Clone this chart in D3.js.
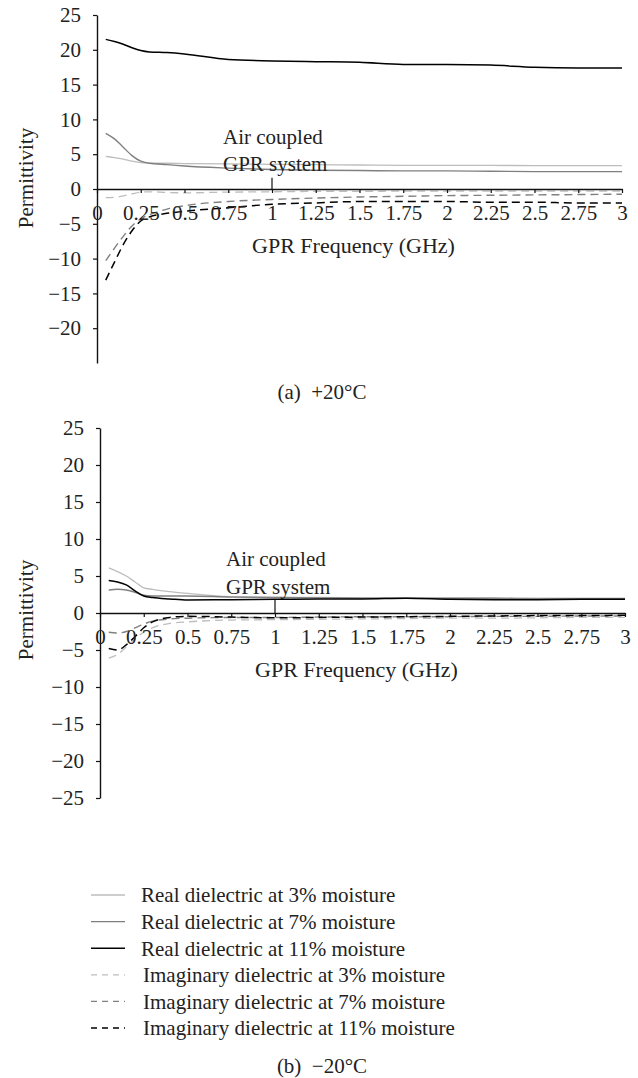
<!DOCTYPE html>
<html>
<head>
<meta charset="utf-8">
<script src="https://cdn.jsdelivr.net/npm/d3@7"></script>
<style>
  body { margin: 0; background: #fff; }
  svg text { font-family: "Liberation Serif", "Times New Roman", serif; fill: #222; }
</style>
</head>
<body>
<div id="chart"></div>
<script>
// frequency points (GHz) shared by every curve
const freq = [0.05, 0.1, 0.15, 0.2, 0.25, 0.3, 0.4, 0.5, 0.75, 1, 1.25, 1.5, 1.75, 2, 2.25, 2.5, 2.75, 3];

// panel (a) +20 C
const real3a  = [4.7, 4.5, 4.3, 4.0, 3.8, 3.7, 3.7, 3.65, 3.6, 3.55, 3.5, 3.45, 3.4, 3.4, 3.4, 3.35, 3.35, 3.35];
const real7a  = [8.0, 7.2, 6.0, 4.8, 4.0, 3.7, 3.5, 3.3, 3.0, 2.8, 2.7, 2.65, 2.6, 2.6, 2.55, 2.5, 2.5, 2.5];
const real11a = [21.5, 21.2, 20.8, 20.3, 19.9, 19.7, 19.6, 19.4, 18.6, 18.4, 18.3, 18.2, 17.9, 17.9, 17.8, 17.5, 17.4, 17.4];
const imag3a  = [-1.25, -1.2, -1.0, -0.7, -0.45, -0.4, -0.5, -0.55, -0.45, -0.4, -0.35, -0.35, -0.3, -0.3, -0.3, -0.3, -0.3, -0.3];
const imag7a  = [-10.3, -8.5, -6.8, -5.3, -4.3, -3.7, -2.9, -2.4, -1.8, -1.5, -1.3, -1.15, -1.05, -0.95, -0.9, -0.85, -0.8, -0.75];
const imag11a = [-13.1, -10.5, -8.0, -6.0, -4.6, -4.0, -3.5, -3.2, -2.7, -2.2, -2.0, -1.8, -1.8, -1.8, -1.9, -1.9, -2.0, -2.0];

// panel (b) -20 C
const real3b  = [6.1, 5.6, 5.0, 4.2, 3.4, 3.2, 2.9, 2.65, 2.2, 2.1, 2.1, 2.05, 2.0, 2.0, 2.0, 1.95, 1.95, 1.95];
const real7b  = [3.1, 3.2, 3.1, 2.8, 2.4, 2.3, 2.3, 2.3, 2.15, 2.1, 2.05, 2.0, 2.0, 2.0, 2.0, 1.95, 1.95, 1.95];
const real11b = [4.4, 4.2, 3.8, 3.0, 2.3, 2.1, 1.9, 1.75, 1.8, 1.85, 1.9, 1.9, 2.0, 1.85, 1.8, 1.8, 1.85, 1.85];
const imag3b  = [-6.1, -5.6, -4.6, -3.5, -2.6, -2.0, -1.4, -1.2, -0.95, -0.9, -0.85, -0.8, -0.75, -0.7, -0.7, -0.65, -0.6, -0.6];
const imag7b  = [-2.6, -2.7, -2.5, -2.0, -1.5, -1.1, -0.8, -0.7, -0.6, -0.6, -0.55, -0.5, -0.5, -0.5, -0.45, -0.45, -0.4, -0.4];
const imag11b = [-4.8, -5.0, -4.3, -3.2, -2.0, -1.2, -0.6, -0.45, -0.55, -0.65, -0.6, -0.55, -0.5, -0.45, -0.4, -0.35, -0.35, -0.3];

// ticks and labels
const xTicks = [0, 0.25, 0.5, 0.75, 1, 1.25, 1.5, 1.75, 2, 2.25, 2.5, 2.75, 3];
const yTicksA = [25, 20, 15, 10, 5, 0, -5, -10, -15, -20];
const yTicksB = [25, 20, 15, 10, 5, 0, -5, -10, -15, -20, -25];
const seriesNames = [
  "Real dielectric at 3% moisture",
  "Real dielectric at 7% moisture",
  "Real dielectric at 11% moisture",
  "Imaginary dielectric at 3% moisture",
  "Imaginary dielectric at 7% moisture",
  "Imaginary dielectric at 11% moisture"
];
const annotation = ["Air coupled", "GPR system"];
const markerFreq = 1;
const xTitle = "GPR Frequency (GHz)";
const yTitle = "Permittivity";
const captions = ["(a)\u2002+20°C", "(b)\u2002\u221220°C"];

const W = 638, H = 1078;
const FS = 21;
const colors = ["#bdbdbd", "#808080", "#000"];
const widths = [1.3, 1.4, 1.5];

const svg = d3.select("#chart").append("svg")
  .attr("width", W).attr("height", H);

const styles = seriesNames.map((name, i) => ({
  name,
  color: colors[i % 3],
  width: widths[i % 3],
  dash: i < 3 ? null : "8,5"
}));

function styleAxis(a) {
  a.select(".domain").attr("stroke", "#111").attr("stroke-width", 1.4);
  a.selectAll(".tick line").attr("stroke", "#111").attr("stroke-width", 1.2);
  a.selectAll(".tick text").attr("font-size", FS).attr("fill", "#222")
    .attr("font-family", "Liberation Serif, serif");
}

function drawPanel(opts) {
  const x = d3.scaleLinear().domain([0, 3]).range([opts.left, opts.right]);
  const y = d3.scaleLinear().domain([-25, 25]).range([opts.bottom, opts.top]);
  const g = svg.append("g");

  // y axis
  g.append("g")
    .attr("transform", `translate(${opts.left},0)`)
    .call(d3.axisLeft(y).tickValues(opts.yTicks).tickSize(4).tickPadding(12).tickSizeOuter(0))
    .call(styleAxis);

  // series lines
  const line = d3.line()
    .x((d, i) => x(freq[i]))
    .y(d => y(d))
    .curve(d3.curveMonotoneX);

  opts.series.forEach((vals, i) => {
    const s = styles[i];
    g.append("path")
      .datum(vals)
      .attr("fill", "none")
      .attr("stroke", s.color)
      .attr("stroke-width", s.width)
      .attr("stroke-dasharray", s.dash)
      .attr("d", line);
  });

  // x axis at zero
  g.append("g")
    .attr("transform", `translate(0,${y(0)})`)
    .call(d3.axisBottom(x).tickValues(xTicks).tickFormat(d => String(d)).tickSize(4).tickPadding(12).tickSizeOuter(0))
    .call(styleAxis);

  // marker for the air coupled system
  g.append("line")
    .attr("x1", x(markerFreq)).attr("x2", x(markerFreq))
    .attr("y1", y(0)).attr("y2", y(opts.markerTop))
    .attr("stroke", "#111").attr("stroke-width", 1.2);

  g.selectAll("text.note")
    .data(annotation)
    .join("text")
    .attr("class", "note")
    .attr("x", x(0.72))
    .attr("y", (d, i) => y(opts.noteY[i]))
    .attr("dy", "0.35em")
    .attr("font-size", FS)
    .text(d => d);

  // axis titles
  g.append("text")
    .attr("x", x(1.5) - 6)
    .attr("y", y(0) + 56)
    .attr("dy", "0.35em")
    .attr("text-anchor", "middle")
    .attr("font-size", 22)
    .text(xTitle);

  g.append("text")
    .attr("transform", `translate(26,${opts.yTitleY}) rotate(-90)`)
    .attr("dy", "0.35em")
    .attr("text-anchor", "middle")
    .attr("font-size", FS)
    .text(yTitle);

  g.append("text")
    .attr("x", 322)
    .attr("y", opts.captionY)
    .attr("dy", "0.35em")
    .attr("text-anchor", "middle")
    .attr("font-size", FS)
    .text(opts.caption);
}

drawPanel({
  left: 97, right: 622, top: 15, bottom: 363,
  yTicks: yTicksA,
  series: [real3a, real7a, real11a, imag3a, imag7a, imag11a],
  markerTop: 1.6,
  noteY: [7.5, 3.6],
  yTitleY: 178,
  captionY: 392,
  caption: captions[0]
});

drawPanel({
  left: 100, right: 625, top: 428, bottom: 798,
  yTicks: yTicksB,
  series: [real3b, real7b, real11b, imag3b, imag7b, imag11b],
  markerTop: 1.75,
  noteY: [7.3, 3.6],
  yTitleY: 610,
  captionY: 1066,
  caption: captions[1]
});

// legend
const legend = svg.append("g").selectAll("g")
  .data(styles)
  .join("g")
  .attr("transform", (d, i) => `translate(0,${895 + i * 26.6})`);

legend.append("line")
  .attr("x1", 91).attr("x2", 125)
  .attr("stroke", d => d.color)
  .attr("stroke-width", d => d.width)
  .attr("stroke-dasharray", d => d.dash ? "6,5" : null);

legend.append("text")
  .attr("x", (d, i) => i < 3 ? 141 : 143)
  .attr("dy", "0.35em")
  .attr("font-size", FS)
  .text(d => d.name);
</script>
</body>
</html>
